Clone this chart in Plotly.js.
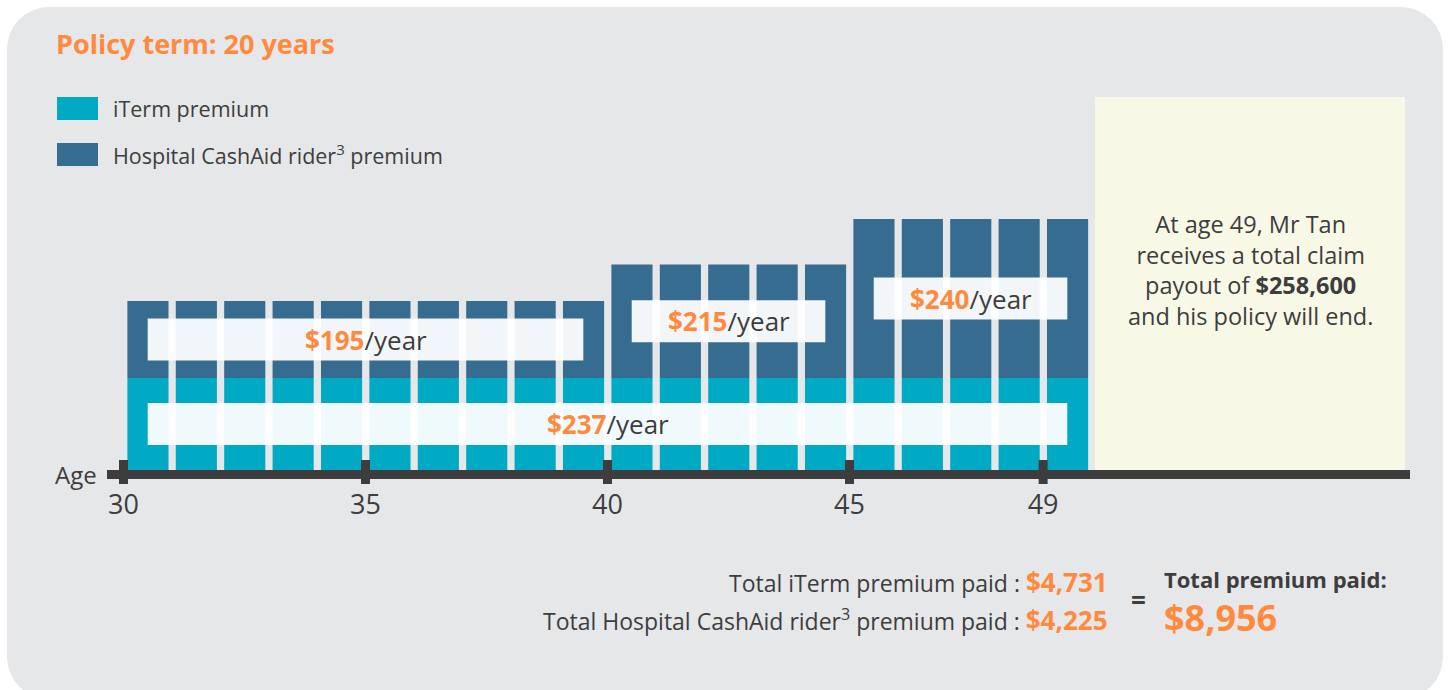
<!DOCTYPE html>
<html>
<head>
<meta charset="utf-8">
<script src="https://cdn.plot.ly/plotly-3.0.1.min.js"></script>
<style>
html,body{margin:0;padding:0;width:1451px;height:690px;overflow:hidden;background:#ffffff;}
#bg{position:absolute;left:7px;top:7px;width:1436px;height:692px;border-radius:42px;background:#e6e7e9;}
#chart{position:absolute;left:0;top:0;width:1451px;height:690px;}
</style>
</head>
<body>
<div id="bg"></div>
<div id="chart"></div>
<script>
// ---- data ----
const ages = [30,31,32,33,34,35,36,37,38,39,40,41,42,43,44,45,46,47,48,49];
const itermPremium = [237,237,237,237,237,237,237,237,237,237,237,237,237,237,237,237,237,237,237,237];
const riderPremium = [195,195,195,195,195,195,195,195,195,195,215,215,215,215,215,240,240,240,240,240];
const tickAges = [30,35,40,45,49];
const seriesNames = ['iTerm premium', 'Hospital CashAid rider<sup>3</sup> premium'];
const chartTitle = 'Policy term: 20 years';
const axisLabel = 'Age';
const claimAge = 49;
const claimPayout = '$258,600';
const totalIterm = '$4,731';
const totalRider = '$4,225';
const totalPremium = '$8,956';

// ---- styles ----
const C_TEAL = '#00aac4', C_BLUE = '#366c8f', C_ORANGE = '#ff8a3d', C_TEXT = '#3d3d3d';
const FONT = 'Open Sans, Liberation Sans, sans-serif';
const W = 1451, H = 690;
const px = v => v / W;          // pixel -> paper x
const py = v => 1 - v / H;      // pixel -> paper y
const riderAxisMin = 152.74, riderPxPerUnit = 1.822;
const riderTopPx = 97, splitPx = 378, basePx = 470;

function runs(vals){
  const out = []; let s = 0;
  for (let i = 1; i <= vals.length; i++) {
    if (i === vals.length || vals[i] !== vals[s]) { out.push({start: ages[s], end: ages[i-1], v: vals[s]}); s = i; }
  }
  return out;
}

const traces = [
  {type:'bar', x: ages, y: itermPremium, name: seriesNames[0], xaxis:'x', yaxis:'y',
   offset: 0.08, width: 0.85, marker:{color:C_TEAL, line:{width:0}}, hoverinfo:'skip'},
  {type:'bar', x: ages, y: riderPremium, name: seriesNames[1], xaxis:'x', yaxis:'y2',
   offset: 0.08, width: 0.85, marker:{color:C_BLUE, line:{width:0}}, hoverinfo:'skip'}
];

const shapes = [];
const annotations = [];
function note(o){ annotations.push(Object.assign({showarrow:false, xanchor:'center', yanchor:'middle', xref:'paper', yref:'paper'}, o)); }

// claim box
shapes.push({type:'rect', xref:'paper', yref:'paper', x0:px(1095), x1:px(1405), y0:py(basePx), y1:py(riderTopPx),
  fillcolor:'#f8f8e6', line:{width:0}, layer:'below'});
note({x:px(1250), y:py(270), align:'center',
  text:'At age ' + claimAge + ', Mr Tan<br>receives a total claim<br>payout of <b>' + claimPayout + '</b><br>and his policy will end.',
  font:{family:FONT, size:23.5, color:C_TEXT}});

// value label boxes
function addLabels(vals, yref, axisMin){
  runs(vals).forEach(g => {
    const x0 = g.start + 0.5, x1 = g.end + 0.5, mid = (axisMin + g.v) / 2;
    shapes.push({type:'rect', xref:'x', yref:yref, x0:x0, x1:x1, ysizemode:'pixel', yanchor:mid, y0:-21, y1:21,
      fillcolor:'rgba(255,255,255,0.94)', line:{width:0}, layer:'above'});
    note({xref:'x', yref:yref, x:(x0+x1)/2, y:mid,
      text:'<b><span style="color:' + C_ORANGE + '">$' + g.v + '</span></b>/year',
      font:{family:FONT, size:26, color:C_TEXT}});
  });
}
addLabels(itermPremium, 'y', 0);
addLabels(riderPremium, 'y2', riderAxisMin);

// tick marks
tickAges.forEach(t => {
  shapes.push({type:'rect', xref:'x', yref:'paper', xsizemode:'pixel', xanchor:t, x0:-4.5, x1:4.5,
    y0:py(484), y1:py(460), fillcolor:C_TEXT, line:{width:0}, layer:'above'});
});

// legend
[[C_TEAL, 97, 120, 108.5], [C_BLUE, 143, 166, 154.5]].forEach((l, i) => {
  shapes.push({type:'rect', xref:'paper', yref:'paper', x0:px(57), x1:px(98), y0:py(l[2]), y1:py(l[1]),
    fillcolor:l[0], line:{width:0}});
  note({x:px(111), y:py(l[3]), xanchor:'left', text:seriesNames[i], font:{family:FONT, size:21.5, color:C_TEXT}});
});

// axis label
note({x:px(99), y:py(474), xanchor:'right', text:axisLabel, font:{family:FONT, size:24, color:C_TEXT}});

// totals
const amt = v => '<b><span style="color:' + C_ORANGE + ';font-size:26px">' + v + '</span></b>';
note({x:px(1110), y:py(582), xanchor:'right',
  text:'Total iTerm premium paid : ' + amt(totalIterm), font:{family:FONT, size:23, color:C_TEXT}});
note({x:px(1110), y:py(620), xanchor:'right',
  text:'Total Hospital CashAid rider<sup>3</sup> premium paid : ' + amt(totalRider), font:{family:FONT, size:23, color:C_TEXT}});
note({x:px(1138), y:py(600), text:'<b>=</b>', font:{family:FONT, size:26, color:C_TEXT}});
note({x:px(1162), y:py(579), xanchor:'left', text:'<b>Total premium paid:</b>', font:{family:FONT, size:22, color:C_TEXT}});
note({x:px(1162), y:py(617), xanchor:'left', text:'<b>' + totalPremium + '</b>', font:{family:FONT, size:36, color:C_ORANGE}});

const layout = {
  width:W, height:H, margin:{l:0, r:0, t:0, b:0},
  paper_bgcolor:'rgba(0,0,0,0)', plot_bgcolor:'rgba(0,0,0,0)',
  font:{family:FONT, color:C_TEXT},
  showlegend:false, barmode:'overlay',
  title:{text:'<b>' + chartTitle + '</b>', xref:'container', yref:'container', x:px(56), xanchor:'left',
    y:py(45), yanchor:'middle', font:{family:FONT, size:27, color:C_ORANGE}},
  xaxis:{domain:[px(107), px(1410)], range:[29.659, 56.58], showline:true, linewidth:9, linecolor:C_TEXT,
    tickvals:tickAges, ticktext:tickAges.map(String), ticks:'', showgrid:false, zeroline:false,
    ticklabelstandoff:3,
    tickfont:{family:FONT, size:27, color:C_TEXT}, fixedrange:true, anchor:'y'},
  yaxis:{domain:[py(basePx), py(splitPx)], range:[0, Math.max(...itermPremium)], visible:false, fixedrange:true},
  yaxis2:{domain:[py(splitPx), py(riderTopPx)], range:[riderAxisMin, riderAxisMin + (splitPx - riderTopPx)/riderPxPerUnit],
    visible:false, anchor:'x', fixedrange:true},
  shapes:shapes, annotations:annotations
};

Plotly.newPlot('chart', traces, layout, {displayModeBar:false, staticPlot:true});
</script>
</body>
</html>
